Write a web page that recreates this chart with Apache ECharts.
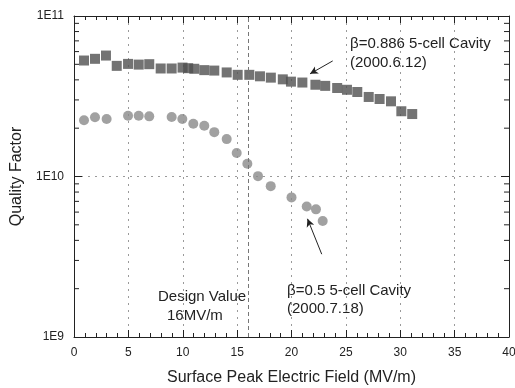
<!DOCTYPE html>
<html>
<head>
<meta charset="utf-8">
<script src="https://cdn.jsdelivr.net/npm/echarts@6/dist/echarts.min.js"></script>
<style>
html,body{margin:0;padding:0;background:#fff;}
#chart{width:515px;height:388px;}
</style>
</head>
<body>
<div id="chart"></div>
<script>
// beta = 0.886 5-cell cavity (2000.6.12): [field MV/m, Q]
const cavity886X = [0.92,1.93,2.94,3.93,4.97,5.95,6.92,7.97,8.98,9.98,10.5,11.06,11.98,12.9,14.04,15.05,16.12,17.1,18.1,19.2,19.95,21.0,22.2,23.1,24.2,25.1,26.05,27.1,28.1,29.15,30.1,31.1];
const cavity886Q = [5.28e10,5.41e10,5.67e10,4.89e10,5.03e10,4.98e10,5.01e10,4.71e10,4.71e10,4.77e10,4.73e10,4.69e10,4.60e10,4.57e10,4.45e10,4.30e10,4.30e10,4.21e10,4.13e10,4.03e10,3.90e10,3.85e10,3.73e10,3.67e10,3.56e10,3.47e10,3.36e10,3.13e10,3.04e10,2.94e10,2.55e10,2.45e10];
// beta = 0.5 5-cell cavity (2000.7.18)
const cavity05X = [0.92,1.93,3.0,4.97,5.95,6.92,8.98,9.96,10.97,11.98,12.9,14.04,14.96,15.94,16.92,18.09,20.0,21.4,22.25,22.87];
const cavity05Q = [2.24e10,2.34e10,2.28e10,2.39e10,2.39e10,2.37e10,2.35e10,2.28e10,2.13e10,2.07e10,1.89e10,1.71e10,1.40e10,1.20e10,1.005e10,8.71e9,7.41e9,6.51e9,6.24e9,5.28e9];

const xTicks = [0,5,10,15,20,25,30,35,40];
const yTickLabels = {1e9:'1E9',1e10:'1E10',1e11:'1E11'};
const yMinorTicks = [2e9,3e9,4e9,5e9,6e9,7e9,8e9,9e9,2e10,3e10,4e10,5e10,6e10,7e10,8e10,9e10];
const designField = 16;

const FONT = 'Liberation Sans, Arial, sans-serif';
const GRIDLINE = {show:true, lineStyle:{color:'#9a9a9a', type:[2,5], width:1}};

const chart = echarts.init(document.getElementById('chart'), null, {renderer:'canvas'});
chart.setOption({
  animation:false,
  backgroundColor:'#fff',
  grid:{left:74, right:6, top:16, bottom:51, outerBoundsMode:'none', containLabel:false},
  xAxis:[{
    type:'value', min:0, max:40, interval:5, position:'bottom',
    name:'Surface Peak Electric Field (MV/m)', nameLocation:'middle', nameGap:33,
    nameTextStyle:{fontFamily:FONT, fontSize:16, color:'#222'},
    axisLine:{show:true, lineStyle:{color:'#222', width:1}},
    axisTick:{show:true, inside:true, length:7, lineStyle:{color:'#222'}},
    minorTick:{show:true, splitNumber:5, length:4, lineStyle:{color:'#222'}},
    axisLabel:{fontFamily:FONT, fontSize:12, color:'#222', margin:10},
    splitLine:GRIDLINE
  },{
    type:'value', min:0, max:40, interval:5, position:'top',
    axisLine:{show:true, onZero:false, lineStyle:{color:'#222', width:1}},
    axisTick:{show:true, inside:true, length:7, lineStyle:{color:'#222'}},
    minorTick:{show:true, splitNumber:5, length:4, lineStyle:{color:'#222'}},
    axisLabel:{show:false}, splitLine:{show:false}
  }],
  yAxis:[{
    type:'log', logBase:10, min:1e9, max:1e11, position:'left',
    name:'Quality Factor', nameLocation:'middle', nameGap:46, nameRotate:90,
    nameTextStyle:{fontFamily:FONT, fontSize:16, color:'#222'},
    axisLine:{show:true, lineStyle:{color:'#222', width:1}},
    axisTick:{show:true, inside:true, length:8, lineStyle:{color:'#222'}},
    axisLabel:{fontFamily:FONT, fontSize:12, color:'#222', margin:10,
      formatter:v=>yTickLabels[Math.round(v)] || ''},
    splitLine:GRIDLINE
  },{
    type:'log', logBase:10, min:1e9, max:1e11, position:'right',
    axisLine:{show:true, onZero:false, lineStyle:{color:'#222', width:1}},
    axisTick:{show:true, inside:true, length:8, lineStyle:{color:'#222'}},
    axisLabel:{show:false}, splitLine:{show:false}
  }],
  series:[
    {
      type:'scatter', name:'β=0.886', symbol:'rect', symbolSize:10,
      itemStyle:{color:'#505050'},
      data:cavity886X.map((x,i)=>[x,cavity886Q[i]]),
      markLine:{
        silent:true, animation:false, symbol:['none','none'],
        label:{show:false},
        lineStyle:{color:'#777', type:[4,3], width:1},
        data:[
          [{coord:[designField,1e9]},{coord:[designField,1e11]}]
        ]
      }
    },
    {
      type:'scatter', name:'β=0.5', symbol:'circle', symbolSize:10,
      itemStyle:{color:'#8a8a8a'},
      data:cavity05X.map((x,i)=>[x,cavity05Q[i]]),
      markLine:{
        silent:true, animation:false, label:{show:false},
        symbol:['none','arrow'], symbolSize:[6,8],
        lineStyle:{color:'#222', type:'solid', width:1},
        data:[
          [{coord:[23.79,5.25e10]},{coord:[21.7,4.36e10]}],
          [{coord:[22.78,3.28e9]},{coord:[21.47,5.45e9]}]
        ]
      }
    },
    {
      type:'custom', name:'minorY', silent:true, clip:false,
      data:yMinorTicks.map(v=>[0, v]),
      encode:{x:0, y:1},
      renderItem:(params, api)=>{
        const v = api.value(1);
        const pl = api.coord([0, v]);
        const pr = api.coord([40, v]);
        return {type:'group', children:[
          {type:'line', shape:{x1:pl[0], y1:pl[1], x2:pl[0]+5, y2:pl[1]}, style:{stroke:'#222', lineWidth:1}},
          {type:'line', shape:{x1:pr[0]-5, y1:pr[1], x2:pr[0], y2:pr[1]}, style:{stroke:'#222', lineWidth:1}}
        ]};
      }
    }
  ],
  graphic:[
    {type:'text', left:350, top:36, style:{text:'β=0.886 5-cell Cavity', font:'15px '+FONT, fill:'#222'}},
    {type:'text', left:350, top:55, style:{text:'(2000.6.12)', font:'15px '+FONT, fill:'#222'}},
    {type:'text', left:287, top:283, style:{text:'β=0.5 5-cell Cavity', font:'15px '+FONT, fill:'#222'}},
    {type:'text', left:287, top:301, style:{text:'(2000.7.18)', font:'15px '+FONT, fill:'#222'}},
    {type:'text', left:158, top:289, style:{text:'Design Value', font:'15px '+FONT, fill:'#222'}},
    {type:'text', left:167, top:308, style:{text:'16MV/m', font:'15px '+FONT, fill:'#222'}}
  ]
});
</script>
</body>
</html>
